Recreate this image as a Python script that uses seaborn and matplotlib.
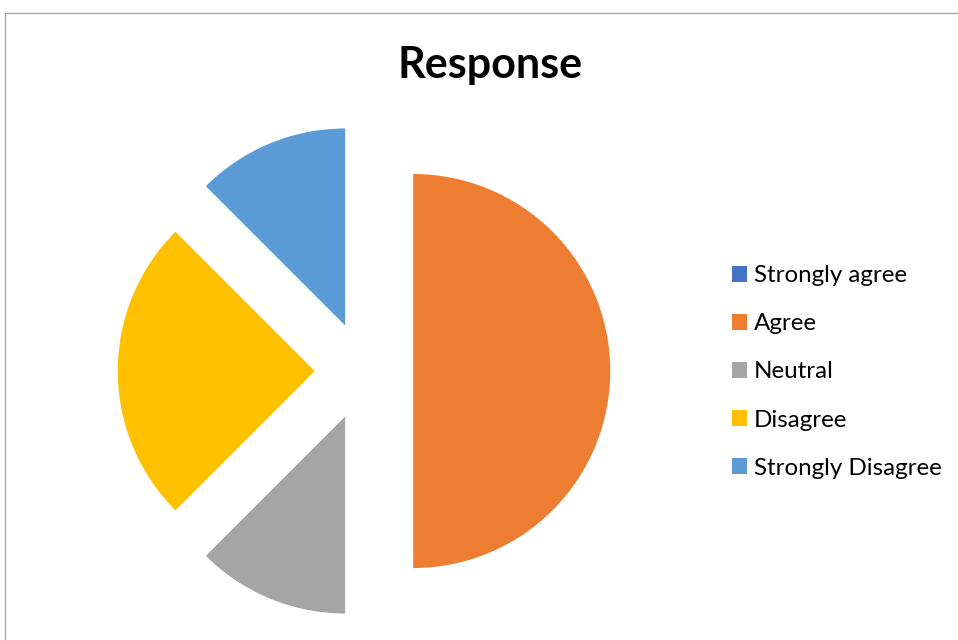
import numpy as np
import seaborn as sns
import matplotlib.pyplot as plt
from matplotlib.patches import Patch
from matplotlib.lines import Line2D

# 数据
labels = ['Strongly agree', 'Agree', 'Neutral', 'Disagree', 'Strongly Disagree']
values = [0, 50, 12.5, 25, 12.5]
colors = ['#4472C4', '#ED7D31', '#A5A5A5', '#FFC000', '#5B9BD5']

sns.set_style('white')
plt.rcParams['font.family'] = ['Lato', 'DejaVu Sans']

fig = plt.figure(figsize=(9.58, 6.4), dpi=100)

# 饼图所在坐标轴 (500x500 px, 中心 364,269)
ax = fig.add_axes([114 / 958, 19 / 640, 500 / 958, 500 / 640])
ax.pie(values, colors=colors, startangle=90, counterclock=False,
       explode=[0.25] * len(values), radius=1,
       wedgeprops=dict(linewidth=0))
lim = 250 / 197
ax.set_xlim(-lim, lim)
ax.set_ylim(-lim, lim)
ax.set_aspect('equal')
ax.axis('off')

fig.text(490 / 958, 1 - 78 / 640, 'Response', ha='center', va='baseline',
         fontsize=31, fontweight='bold', color='black')

handles = [Patch(facecolor=c, edgecolor='none') for c in colors]
fig.legend(handles, labels, loc='center left', bbox_to_anchor=(732 / 958, 1 - 372 / 640),
           frameon=False, fontsize=17.4, handlelength=0.6, handleheight=0.6,
           handletextpad=0.3, labelspacing=1.12, borderpad=0, borderaxespad=0,
           labelcolor='black')

# 外框
fig.add_artist(Line2D([5 / 958, 5 / 958], [0, 1 - 12.5 / 640], color='#a6a6a6', lw=1))
fig.add_artist(Line2D([5 / 958, 1], [1 - 12.5 / 640, 1 - 12.5 / 640], color='#a6a6a6', lw=1))

fig.savefig('out.png', dpi=100)
